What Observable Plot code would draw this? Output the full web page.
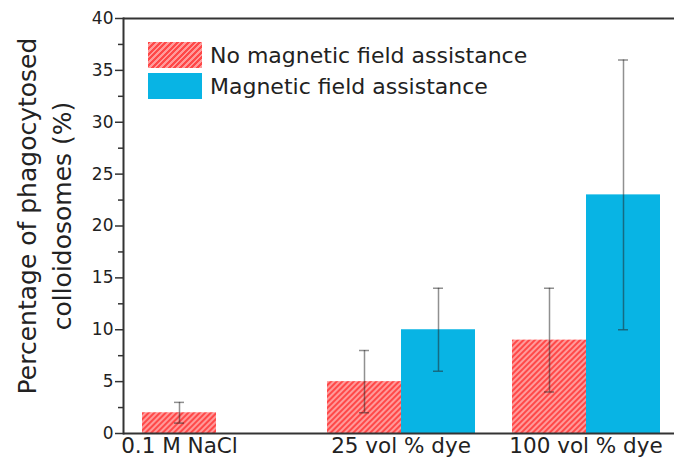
<!DOCTYPE html>
<html>
<head>
<meta charset="utf-8">
<script src="https://cdn.jsdelivr.net/npm/d3@7"></script>
<script src="https://cdn.jsdelivr.net/npm/@observablehq/plot@0.6"></script>
<style>
  html, body { margin: 0; padding: 0; background: #fff; overflow: hidden; }
  #wrap { position: relative; width: 674px; height: 462px; overflow: hidden; font-family: "DejaVu Sans", sans-serif; color: #222; }
  #chart svg { max-width: none !important; height: 462px !important; display: block; }
  #ylabel { position: absolute; left: -166px; top: 182px; width: 420px; height: 68px; line-height: 35px; font-size: 25px; text-align: center; transform: rotate(-90deg); transform-origin: 50% 50%; white-space: nowrap; }
  .leg { position: absolute; left: 148px; display: flex; align-items: center; font-size: 22px; }
  .sw { width: 54px; height: 26px; margin-right: 8px; }
  .hatch { background: repeating-linear-gradient(135deg, #ff4848 0px, #ff4848 2px, #ff9a9a 2px, #ff9a9a 4px); }
  .blue { background: #08b4e4; }
</style>
</head>
<body>
<div id="wrap">
  <div id="chart"></div>
  <div id="ylabel"></div>
  <div id="legend"></div>
</div>
<script>
const groups = ["0.1 M NaCl", "25 vol % dye", "100 vol % dye"];
const seriesKeys = ["no", "mag"];
const seriesNames = ["No magnetic field assistance", "Magnetic field assistance"];
const noFieldValues = [2, 5, 9];
const noFieldLow = [1, 2, 4];
const noFieldHigh = [3, 8, 14];
const fieldValues = [null, 10, 23];
const fieldLow = [null, 6, 10];
const fieldHigh = [null, 14, 36];
const yTicks = [0, 5, 10, 15, 20, 25, 30, 35, 40];
const yMinorTicks = [2.5, 7.5, 12.5, 17.5, 22.5, 27.5, 32.5, 37.5];
const yLabelLines = ["Percentage of phagocytosed", "colloidosomes (%)"];

const rows = [];
groups.forEach((g, i) => {
  rows.push({group: g, series: "no", value: noFieldValues[i], lo: noFieldLow[i], hi: noFieldHigh[i]});
  if (fieldValues[i] != null) rows.push({group: g, series: "mag", value: fieldValues[i], lo: fieldLow[i], hi: fieldHigh[i]});
});

const axisColor = "#333";

const chart = Plot.plot({
  width: 678,
  height: 462,
  marginLeft: 123,
  marginRight: 0,
  marginTop: 18,
  marginBottom: 29,
  style: {fontFamily: "DejaVu Sans, sans-serif", color: "#222", background: "transparent", overflow: "visible"},
  fx: {domain: groups, padding: 0, axis: null},
  x: {domain: seriesKeys, paddingInner: 0, paddingOuter: 0.25, axis: null},
  y: {domain: [0, 40], axis: null},
  marks: [
    Plot.barY(rows.filter(d => d.series === "no"), {fx: "group", x: "series", y: "value", fill: "url(#hatch)"}),
    Plot.barY(rows.filter(d => d.series === "mag"), {fx: "group", x: "series", y: "value", fill: "#08b4e4"}),
    Plot.ruleX(rows, {fx: "group", x: "series", y1: "lo", y2: "hi", stroke: "#222", strokeOpacity: 0.5, strokeWidth: 1.5}),
    Plot.tickY(rows, {fx: "group", x: "series", y: "lo", stroke: "#222", strokeOpacity: 0.5, strokeWidth: 1.5, insetLeft: 32, insetRight: 32}),
    Plot.tickY(rows, {fx: "group", x: "series", y: "hi", stroke: "#222", strokeOpacity: 0.5, strokeWidth: 1.5, insetLeft: 32, insetRight: 32}),
    Plot.ruleY([0], {stroke: axisColor, strokeWidth: 2}),
    Plot.ruleY([40], {stroke: axisColor, strokeWidth: 2}),
    Plot.frame({anchor: "left", facetAnchor: "left", stroke: axisColor, strokeWidth: 2}),
    Plot.axisY({ticks: yTicks, tickSize: 8, tickPadding: 2, fontSize: 17, label: null, stroke: axisColor, strokeWidth: 1.5, fill: "#222"}),
    Plot.axisY({ticks: yMinorTicks, tickSize: 5, tickFormat: () => "", label: null, stroke: axisColor, strokeWidth: 1.5}),
    Plot.text([groups[0]], {fx: d => d, x: () => "no", text: d => d, frameAnchor: "bottom", lineAnchor: "top", dy: 4, fontSize: 21.5, fill: "#222"}),
    Plot.text(groups.slice(1), {fx: d => d, text: d => d, frameAnchor: "bottom", lineAnchor: "top", dy: 4, fontSize: 21.5, fill: "#222"})
  ]
});

// hatch pattern definition
const svgNS = "http://www.w3.org/2000/svg";
const svgEl = chart.tagName.toLowerCase() === "svg" ? chart : chart.querySelector("svg");
const defs = document.createElementNS(svgNS, "defs");
defs.innerHTML = '<pattern id="hatch" patternUnits="userSpaceOnUse" width="4" height="4" patternTransform="rotate(45)">' +
  '<rect width="4" height="4" fill="#ff9a9a"></rect><rect width="2" height="4" fill="#ff4848"></rect></pattern>';
svgEl.insertBefore(defs, svgEl.firstChild);

document.getElementById("chart").appendChild(chart);

document.getElementById("ylabel").innerHTML = yLabelLines.join("<br>");

const legend = document.getElementById("legend");
const legendTops = [42, 73];
const legendClasses = ["hatch", "blue"];
seriesNames.forEach((name, i) => {
  const row = document.createElement("div");
  row.className = "leg";
  row.style.top = legendTops[i] + "px";
  const sw = document.createElement("div");
  sw.className = "sw " + legendClasses[i];
  const t = document.createElement("span");
  t.textContent = name;
  row.appendChild(sw);
  row.appendChild(t);
  legend.appendChild(row);
});
</script>
</body>
</html>
